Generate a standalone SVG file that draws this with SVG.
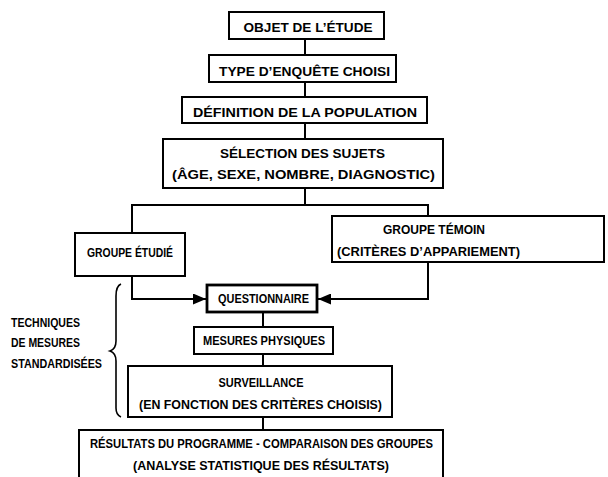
<svg xmlns="http://www.w3.org/2000/svg" width="608" height="477" viewBox="0 0 608 477">
<defs>
<style>
.box{fill:#fff;stroke:#000;stroke-width:2}
.t{font-family:"Liberation Sans","DejaVu Sans",sans-serif;font-weight:bold;font-size:12.5px;fill:#000;text-anchor:middle}
.l{font-family:"Liberation Sans","DejaVu Sans",sans-serif;font-weight:bold;font-size:12.5px;fill:#000}
.c{fill:none;stroke:#000;stroke-width:2}
</style>
<marker id="ah" viewBox="0 0 13 11" refX="13" refY="5.5" markerWidth="13" markerHeight="11" markerUnits="userSpaceOnUse" orient="auto">
<path d="M0,0 L13,5.5 L0,11 Z" fill="#000"/>
</marker>
</defs>
<rect width="608" height="477" fill="#fff"/>
<g id="connectors">
<line class="c" x1="305" y1="39" x2="305" y2="55"/>
<line class="c" x1="305" y1="82" x2="305" y2="97"/>
<line class="c" x1="305" y1="123" x2="305" y2="139"/>
<line class="c" x1="305" y1="188" x2="305" y2="205"/>
<polyline class="c" points="132,233 132,205 428,205 428,216"/>
<polyline class="c" points="132,276 132,299 206,299" marker-end="url(#ah)"/>
<polyline class="c" points="428,262 428,299 318,299" marker-end="url(#ah)"/>
<line class="c" x1="263" y1="312" x2="263" y2="327"/>
<line class="c" x1="263" y1="354" x2="263" y2="366"/>
<line class="c" x1="263" y1="417" x2="263" y2="430"/>
</g>
<g id="n1"><rect class="box" x="229" y="12" width="155" height="27"/><text class="t" x="308" y="32" textLength="129" lengthAdjust="spacingAndGlyphs">OBJET DE L’ÉTUDE</text></g>
<g id="n2"><rect class="box" x="209" y="55" width="187" height="27"/><text class="t" x="304.5" y="76" textLength="171" lengthAdjust="spacingAndGlyphs">TYPE D’ENQUÊTE CHOISI</text></g>
<g id="n3"><rect class="box" x="182" y="97" width="245" height="26"/><text class="t" x="305" y="117" textLength="224" lengthAdjust="spacingAndGlyphs">DÉFINITION DE LA POPULATION</text></g>
<g id="n4"><rect class="box" x="163" y="139" width="280" height="49"/><text class="t" x="302.5" y="158" textLength="165" lengthAdjust="spacingAndGlyphs">SÉLECTION DES SUJETS</text><text class="t" x="303.5" y="179" textLength="263" lengthAdjust="spacingAndGlyphs">(ÂGE, SEXE, NOMBRE, DIAGNOSTIC)</text></g>
<g id="n5"><rect class="box" x="75" y="233" width="110" height="43"/><text class="t" x="130" y="257" textLength="86" lengthAdjust="spacingAndGlyphs">GROUPE ÉTUDIÉ</text></g>
<g id="n6"><rect class="box" x="332" y="216" width="272" height="46"/><text class="t" x="434" y="234" textLength="102" lengthAdjust="spacingAndGlyphs">GROUPE TÉMOIN</text><text class="t" x="428.5" y="256" textLength="183" lengthAdjust="spacingAndGlyphs">(CRITÈRES D’APPARIEMENT)</text></g>
<g id="n7"><rect class="box" x="207" y="285" width="110" height="27" style="stroke-width:2.8"/><text class="t" x="263.5" y="303" textLength="91" lengthAdjust="spacingAndGlyphs">QUESTIONNAIRE</text></g>
<g id="n8"><rect class="box" x="194" y="327" width="139" height="27"/><text class="t" x="264" y="345" textLength="122" lengthAdjust="spacingAndGlyphs">MESURES PHYSIQUES</text></g>
<g id="n9"><rect class="box" x="128" y="366" width="264" height="51"/><text class="t" x="261" y="387" textLength="85" lengthAdjust="spacingAndGlyphs">SURVEILLANCE</text><text class="t" x="260.5" y="409" textLength="243" lengthAdjust="spacingAndGlyphs">(EN FONCTION DES CRITÈRES CHOISIS)</text></g>
<g id="n10"><path class="c" d="M79,480 L79,430 L443,430 L443,480"/><text class="t" x="261.5" y="448" textLength="343" lengthAdjust="spacingAndGlyphs">RÉSULTATS DU PROGRAMME - COMPARAISON DES GROUPES</text><text class="t" x="261" y="470" textLength="256" lengthAdjust="spacingAndGlyphs">(ANALYSE STATISTIQUE DES RÉSULTATS)</text></g>
<g id="label">
<path d="M121,284 Q116,286 116,296 L116,341 Q116,349 110,351 Q116,353 116,361 L116,408 Q116,415 121,417" fill="none" stroke="#000" stroke-width="1.6"/>
<text class="l" x="11" y="327" textLength="69" lengthAdjust="spacingAndGlyphs">TECHNIQUES</text>
<text class="l" x="11" y="347" textLength="69" lengthAdjust="spacingAndGlyphs">DE MESURES</text>
<text class="l" x="11" y="368" textLength="91" lengthAdjust="spacingAndGlyphs">STANDARDISÉES</text>
</g>
</svg>
